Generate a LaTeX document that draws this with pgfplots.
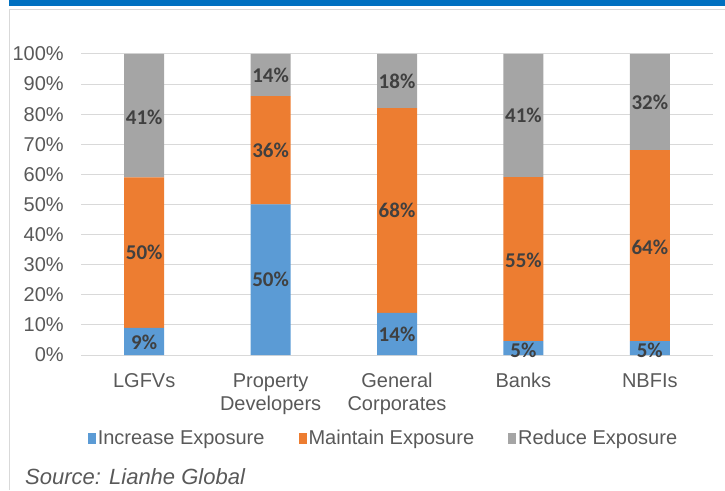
\documentclass[border=0pt]{standalone}
\usepackage{pgfplots}
\pgfplotsset{compat=1.18}
\usepackage{fontspec}
\setmainfont{Liberation Sans}
\newfontfamily\calibri{Carlito}
\definecolor{cblue}{HTML}{5B9BD5}
\definecolor{corange}{HTML}{ED7D31}
\definecolor{cgray}{HTML}{A5A5A5}
\definecolor{ctext}{HTML}{595959}
\definecolor{clabel}{HTML}{404040}
\definecolor{cgrid}{HTML}{D9D9D9}
\definecolor{ctop}{HTML}{0070C0}
\begin{document}
\begin{tikzpicture}[x=1pt,y=1pt]
\useasboundingbox (0,0) rectangle (725,490);
\fill[ctop] (9,484) rectangle (725,490);
\draw[cgrid, line width=1pt] (9.5,0) -- (9.5,480) -- (725,480);
\pgfplotsset{base/.style={
  at={(81pt,135pt)}, anchor=south west,
  scale only axis, width=632pt, height=301pt,
  xmin=-0.5, xmax=4.5, ymin=0, ymax=100,
}}
\begin{axis}[base,
  ybar stacked, bar width=40pt,
  axis lines=left, axis line style={draw=none}, tick style={draw=none},
  ymajorgrids, grid style={cgrid, line width=1pt},
  ytick={0,10,...,100},
  yticklabel={\pgfmathprintnumber{\tick}\%},
  /pgf/number format/assume math mode=true,
  yticklabel style={inner sep=0pt, xshift=-15pt, font=\fontsize{20}{24}\selectfont, text=ctext},
  xtick={0,1,2,3,4},
  xticklabels={LGFVs, Property\\Developers, General\\Corporates, Banks, NBFIs},
  xticklabel style={align=center, inner sep=0pt, yshift=-16pt, font=\fontsize{20}{23}\selectfont, text=ctext},
  legend columns=3,
  legend image code/.code={\fill[#1] (0pt,-5.5pt) rectangle (8pt,5.5pt);},
  legend style={at={(0.4786,-0.276)}, anchor=center, draw=none, fill=none,
    font=\fontsize{20}{24}\selectfont, text=ctext,
    /tikz/every even column/.append style={column sep=32pt},
    nodes={inner sep=2pt}},
  legend cell align=left,
]
\addplot[fill=cblue, draw=none] coordinates {(0,9) (1,50) (2,14) (3,4.6) (4,4.6)};
\addplot[fill=corange, draw=none] coordinates {(0,50) (1,36) (2,68) (3,54.5) (4,63.5)};
\addplot[fill=cgray, draw=none] coordinates {(0,41) (1,14) (2,18) (3,40.9) (4,31.9)};
\legend{Increase Exposure, Maintain Exposure, Reduce Exposure}
\end{axis}
\begin{axis}[base, hide axis, clip=false]
\addplot[draw=none, mark=none, nodes near coords, point meta=explicit symbolic,
  every node near coord/.style={anchor=center, inner sep=0pt, text=clabel,
    font=\calibri\bfseries\fontsize{21}{21}\selectfont}]
  coordinates {
  (0,4.3)[9\%] (0,34)[50\%] (0,79)[41\%]
  (1,25)[50\%] (1,68)[36\%] (1,93)[14\%]
  (2,7)[14\%] (2,48)[68\%] (2,91)[18\%]
  (3,1.6)[5\%] (3,31.3)[55\%] (3,79.5)[41\%]
  (4,1.6)[5\%] (4,35.6)[64\%] (4,84.1)[32\%]
  };
\end{axis}
\node[anchor=west, inner sep=0pt, text=ctext, font=\itshape\fontsize{22}{26}\selectfont] at (25,13) {Source: Lianhe Global};
\end{tikzpicture}
\end{document}
